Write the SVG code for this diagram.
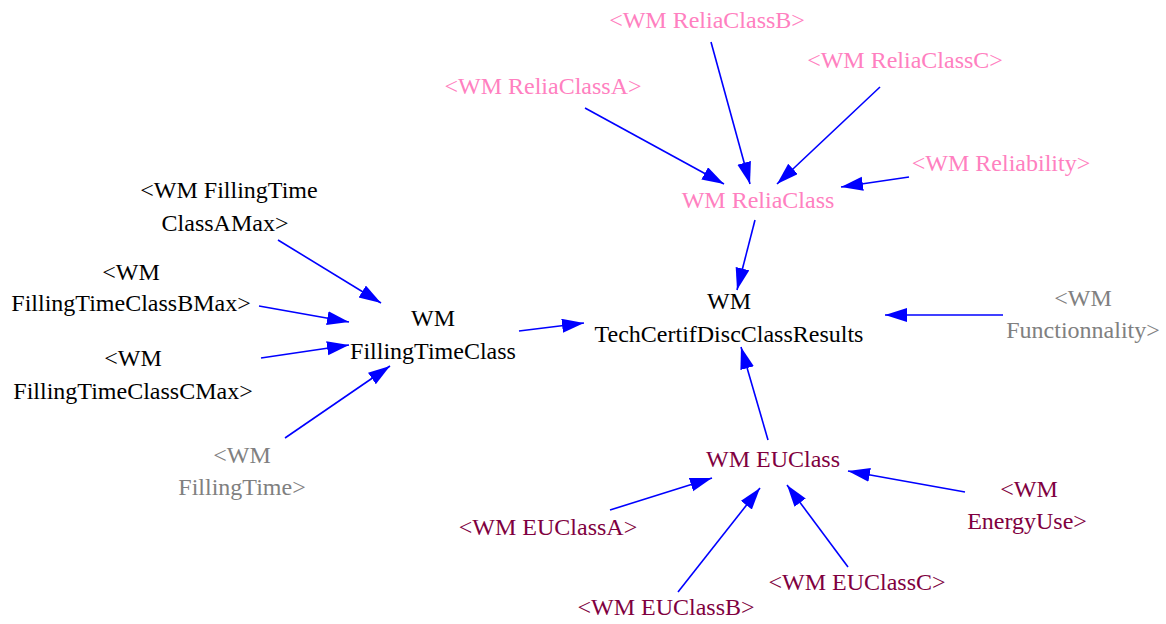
<svg xmlns="http://www.w3.org/2000/svg" width="1166" height="624" viewBox="0 0 1166 624">
<defs>
<marker id="ah" markerUnits="userSpaceOnUse" markerWidth="24" markerHeight="16" refX="22" refY="7" orient="auto">
<path d="M0,0 L22,7 L0,14 z" fill="#0000FF"/>
</marker>
<style>
text{font-family:'Liberation Serif','Times New Roman',serif;font-size:24px;text-anchor:middle}
.k{fill:#000000}.p{fill:#FF80C0}.g{fill:#808080}.m{fill:#800040}
.e{stroke:#0000FF;stroke-width:1.6;fill:none;marker-end:url(#ah)}
</style>
</defs>
<rect width="1166" height="624" fill="#FFFFFF"/>
<g id="connectors">
<line class="e" x1="711" y1="42" x2="750" y2="184"/>
<line class="e" x1="585" y1="108" x2="724" y2="184"/>
<line class="e" x1="880" y1="87" x2="777" y2="184"/>
<line class="e" x1="909" y1="177" x2="841" y2="187"/>
<line class="e" x1="755" y1="220" x2="737" y2="290"/>
<line class="e" x1="278" y1="240" x2="381" y2="303"/>
<line class="e" x1="259" y1="306" x2="349" y2="322"/>
<line class="e" x1="261" y1="358" x2="349" y2="345"/>
<line class="e" x1="285" y1="438" x2="390" y2="366"/>
<line class="e" x1="519" y1="331" x2="584" y2="323"/>
<line class="e" x1="1003" y1="315" x2="885" y2="315"/>
<line class="e" x1="768" y1="440" x2="741" y2="347"/>
<line class="e" x1="610" y1="510" x2="712" y2="478"/>
<line class="e" x1="678" y1="592" x2="760" y2="488"/>
<line class="e" x1="848" y1="567" x2="787" y2="485"/>
<line class="e" x1="965" y1="492" x2="848" y2="471"/>
</g>
<g id="reliaClassB"><text class="p" x="707" y="28">&lt;WM ReliaClassB&gt;</text></g>
<g id="reliaClassA"><text class="p" x="543" y="94">&lt;WM ReliaClassA&gt;</text></g>
<g id="reliaClassC"><text class="p" x="905" y="68">&lt;WM ReliaClassC&gt;</text></g>
<g id="reliability"><text class="p" x="1001" y="171">&lt;WM Reliability&gt;</text></g>
<g id="reliaClass"><text class="p" x="758" y="208">WM ReliaClass</text></g>
<g id="ftClassAMax"><text class="k" x="229" y="198">&lt;WM FillingTime</text><text class="k" x="225" y="231">ClassAMax&gt;</text></g>
<g id="ftClassBMax"><text class="k" x="131" y="280">&lt;WM</text><text class="k" x="131" y="311">FillingTimeClassBMax&gt;</text></g>
<g id="ftClassCMax"><text class="k" x="133" y="366">&lt;WM</text><text class="k" x="133" y="399">FillingTimeClassCMax&gt;</text></g>
<g id="fillingTime"><text class="g" x="242" y="463">&lt;WM</text><text class="g" x="242" y="495">FillingTime&gt;</text></g>
<g id="fillingTimeClass"><text class="k" x="433" y="326">WM</text><text class="k" x="433" y="359">FillingTimeClass</text></g>
<g id="techCertif"><text class="k" x="729" y="309">WM</text><text class="k" x="729" y="342">TechCertifDiscClassResults</text></g>
<g id="functionnality"><text class="g" x="1083" y="306">&lt;WM</text><text class="g" x="1083" y="338">Functionnality&gt;</text></g>
<g id="euClass"><text class="m" x="773" y="467">WM EUClass</text></g>
<g id="euClassA"><text class="m" x="548" y="535">&lt;WM EUClassA&gt;</text></g>
<g id="energyUse"><text class="m" x="1029" y="497">&lt;WM</text><text class="m" x="1027" y="529">EnergyUse&gt;</text></g>
<g id="euClassB"><text class="m" x="666" y="615">&lt;WM EUClassB&gt;</text></g>
<g id="euClassC"><text class="m" x="857" y="590">&lt;WM EUClassC&gt;</text></g>
</svg>
